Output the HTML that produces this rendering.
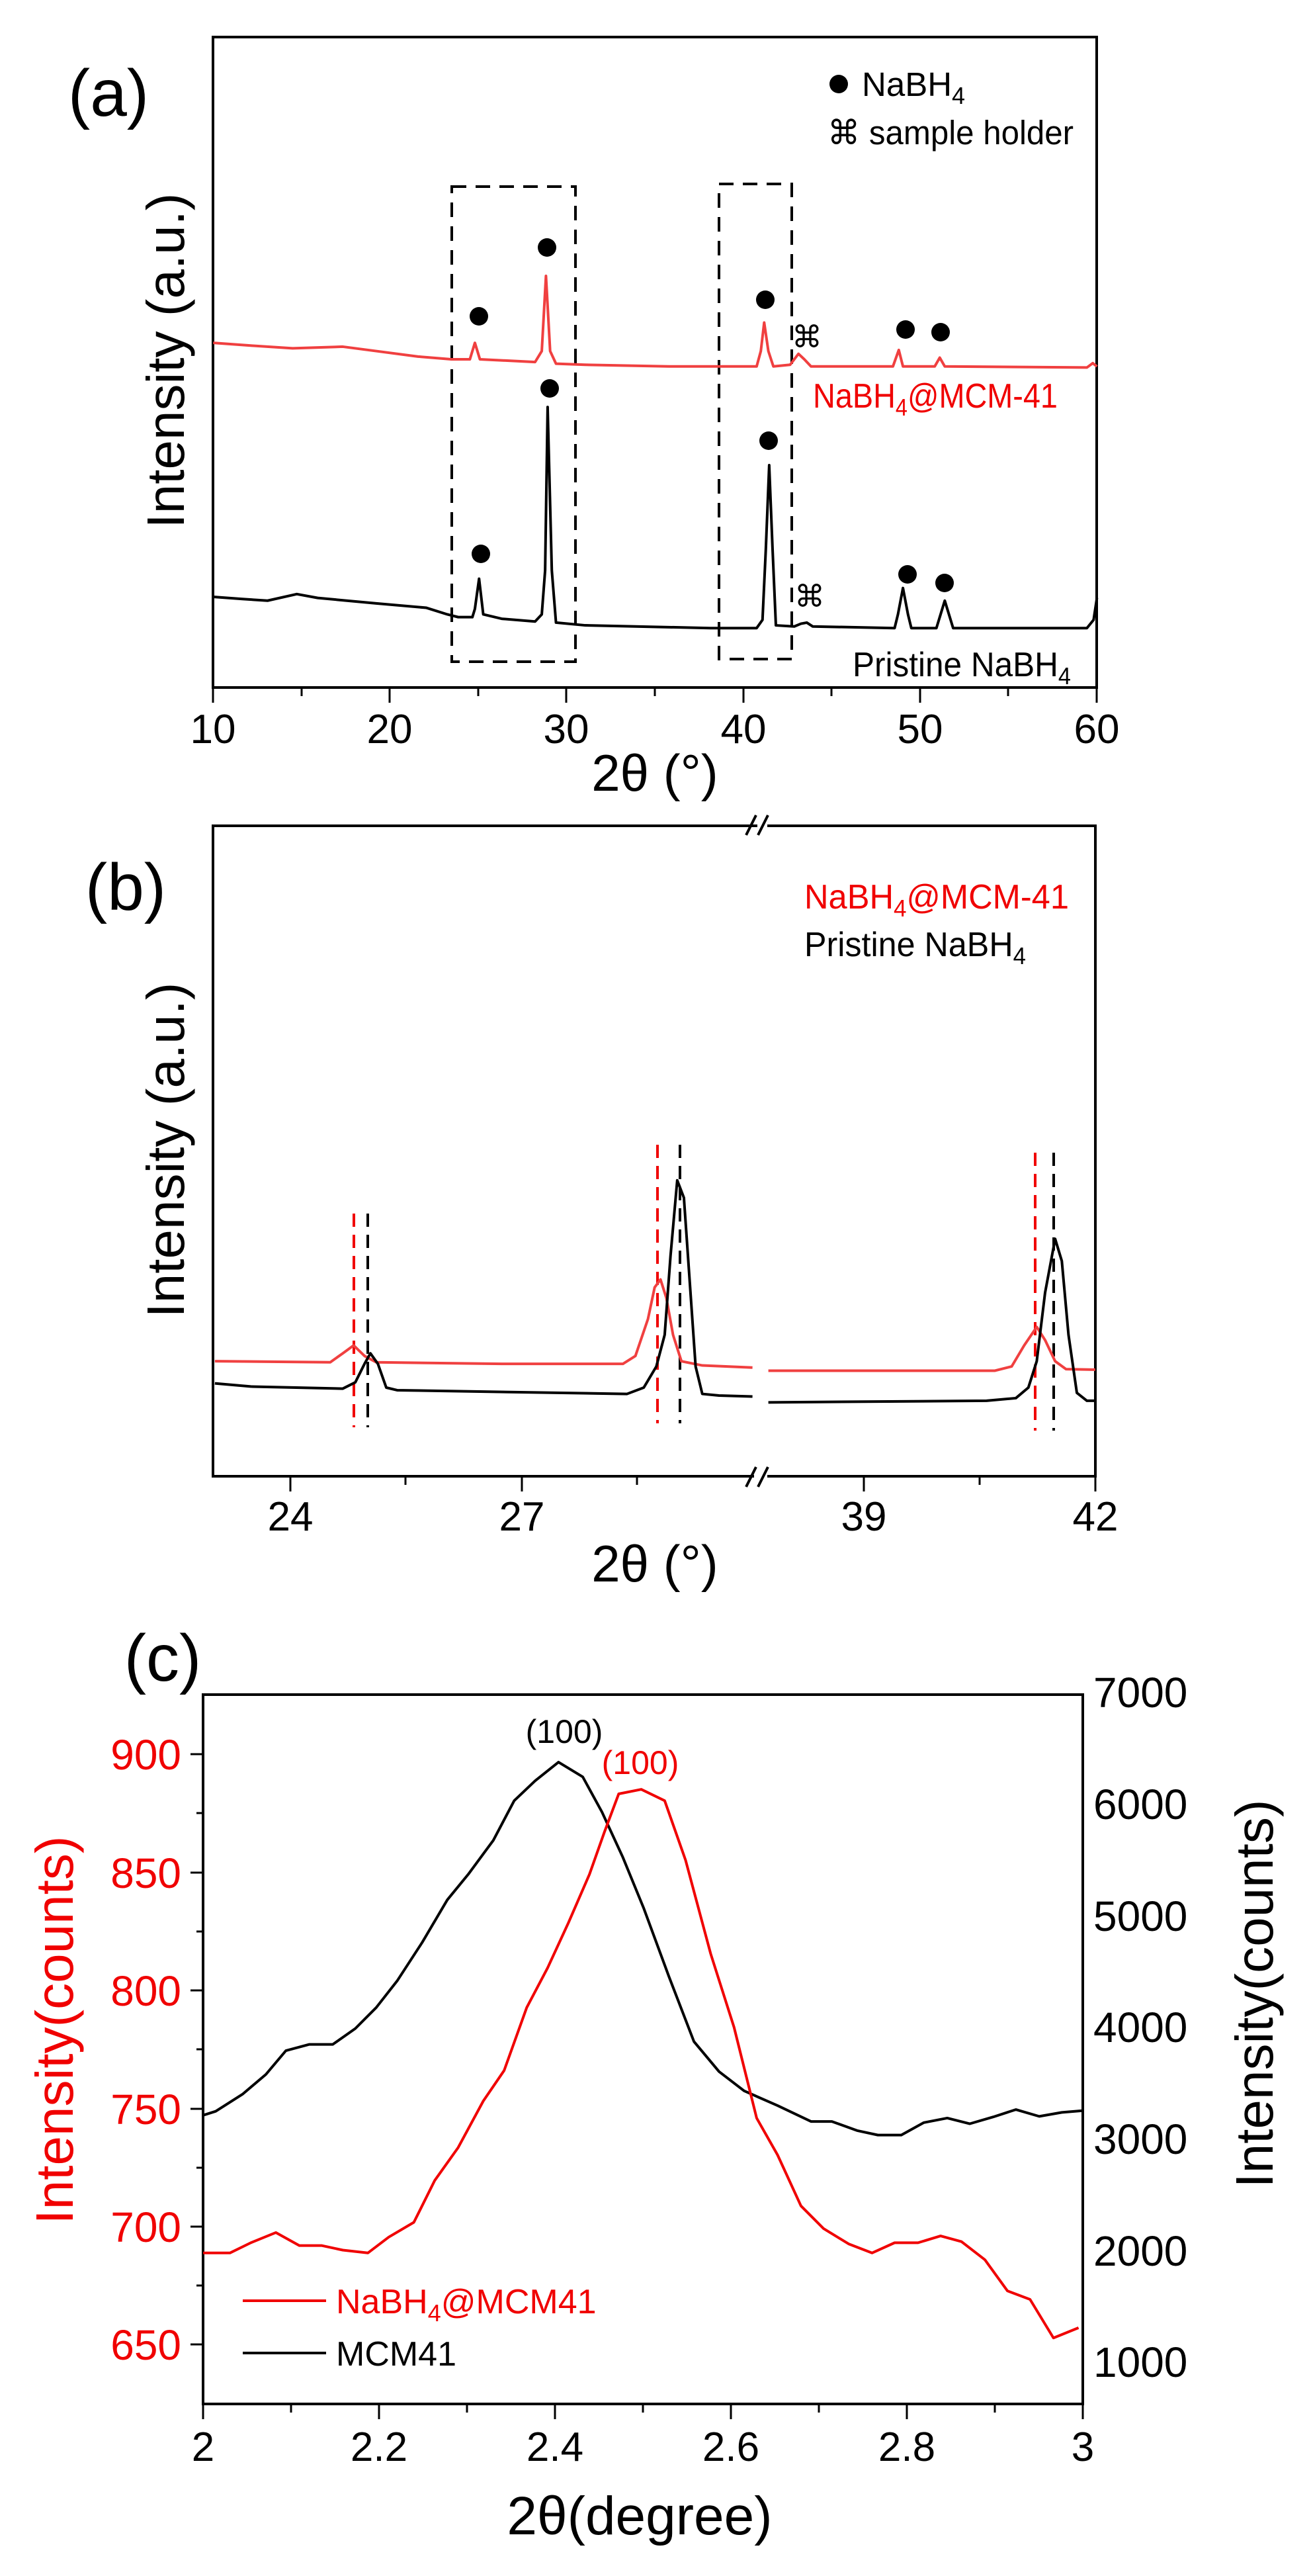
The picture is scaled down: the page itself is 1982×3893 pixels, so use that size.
<!DOCTYPE html>
<html><head><meta charset="utf-8"><style>html,body{margin:0;padding:0;background:#fff}svg{display:block}text{font-family:"Liberation Sans",Arial,sans-serif}</style></head>
<body>
<svg width="1982" height="3893" viewBox="0 0 1982 3893" xmlns="http://www.w3.org/2000/svg">
<rect width="1982" height="3893" fill="#fff"/>

<!-- ============ PANEL (a) ============ -->
<text x="164" y="175" font-size="100" text-anchor="middle">(a)</text>
<rect x="322" y="56" width="1336" height="983" fill="none" stroke="#000" stroke-width="4"/>
<g stroke="#000" stroke-width="3">
<line x1="322" y1="1039" x2="322" y2="1062"/><line x1="589" y1="1039" x2="589" y2="1062"/><line x1="856" y1="1039" x2="856" y2="1062"/><line x1="1124" y1="1039" x2="1124" y2="1062"/><line x1="1391" y1="1039" x2="1391" y2="1062"/><line x1="1658" y1="1039" x2="1658" y2="1062"/>
<line x1="456" y1="1039" x2="456" y2="1052"/><line x1="723" y1="1039" x2="723" y2="1052"/><line x1="990" y1="1039" x2="990" y2="1052"/><line x1="1257" y1="1039" x2="1257" y2="1052"/><line x1="1524" y1="1039" x2="1524" y2="1052"/>
</g>
<g font-size="62" text-anchor="middle">
<text x="322" y="1123">10</text><text x="589" y="1123">20</text><text x="856" y="1123">30</text><text x="1124" y="1123">40</text><text x="1391" y="1123">50</text><text x="1658" y="1123">60</text>
</g>
<text x="990" y="1195" font-size="78" text-anchor="middle">2θ (°)</text>
<text transform="translate(278,545) rotate(-90)" font-size="80" text-anchor="middle">Intensity (a.u.)</text>
<g fill="none" stroke="#000" stroke-width="4" stroke-dasharray="22,14">
<rect x="683" y="282" width="187" height="718"/>
<rect x="1087" y="278" width="110" height="718"/>
</g>
<g transform="matrix(1.264,0,0,0.829,0,0)" fill="none" stroke-width="4" stroke-linejoin="round">
<path vector-effect="non-scaling-stroke" stroke="#f04040" d="M255,625 L300,630 350,635 410,632 450,640 500,650 540,655 562,655 568,625 574,655 640,660 648,640 653,503 658,640 665,663 700,665 800,668 905,668 910,640 914,588 919,640 925,668 945,665 955,645 962,655 970,668 1068,668 1075,638 1080,668 1118,668 1124,652 1130,668 1300,670 1307,662 1312,668"/>
<path vector-effect="non-scaling-stroke" stroke="#000" d="M255,1088 L290,1092 320,1095 355,1083 380,1090 450,1100 510,1108 535,1120 548,1125 565,1125 568,1110 573,1055 578,1120 600,1128 640,1133 648,1120 652,1040 655,742 660,1040 665,1135 700,1140 850,1145 905,1145 912,1130 916,1000 920,848 924,1000 928,1140 950,1142 958,1137 965,1135 972,1142 1070,1145 1074,1120 1080,1072 1086,1120 1090,1145 1120,1145 1125,1120 1130,1095 1135,1120 1140,1145 1300,1145 1308,1130 1312,1090"/>
</g>
<g fill="#000">
<circle cx="724" cy="478" r="14"/><circle cx="827" cy="374" r="14"/><circle cx="1157" cy="453" r="14"/><circle cx="1369" cy="498" r="14"/><circle cx="1422" cy="502" r="14"/>
<circle cx="727" cy="837" r="14"/><circle cx="831" cy="587" r="14"/><circle cx="1162" cy="666" r="14"/><circle cx="1372" cy="868" r="14"/><circle cx="1428" cy="881" r="14"/>
<circle cx="1268" cy="127" r="14"/>
</g>
<text x="1220" y="525" font-size="46" text-anchor="middle">⌘</text>
<text x="1224" y="917" font-size="46" text-anchor="middle">⌘</text>
<text x="1303" y="145" font-size="51">NaBH<tspan font-size="36" dy="12">4</tspan></text>
<text x="1251" y="218" font-size="51" textLength="372" lengthAdjust="spacingAndGlyphs">⌘ sample holder</text>
<text x="1229" y="616" font-size="52" fill="#f00000" textLength="370" lengthAdjust="spacingAndGlyphs">NaBH<tspan font-size="36" dy="12">4</tspan><tspan dy="-12">@MCM-41</tspan></text>
<text x="1289" y="1022" font-size="52" textLength="330" lengthAdjust="spacingAndGlyphs">Pristine NaBH<tspan font-size="36" dy="12">4</tspan></text>

<!-- ============ PANEL (b) ============ -->
<text x="190" y="1375" font-size="100" text-anchor="middle">(b)</text>
<polyline points="1145,1248 322,1248 322,2231 1140,2231" fill="none" stroke="#000" stroke-width="4"/>
<polyline points="1160,1248 1656,1248 1656,2231 1160,2231" fill="none" stroke="#000" stroke-width="4"/>
<g stroke="#000" stroke-width="4">
<line x1="1128" y1="1262" x2="1143" y2="1232"/><line x1="1146" y1="1262" x2="1161" y2="1232"/>
<line x1="1128" y1="2247" x2="1143" y2="2217"/><line x1="1146" y1="2247" x2="1161" y2="2217"/>
</g>
<g stroke="#000" stroke-width="3">
<line x1="439" y1="2231" x2="439" y2="2254"/><line x1="789" y1="2231" x2="789" y2="2254"/><line x1="1306" y1="2231" x2="1306" y2="2254"/><line x1="1656" y1="2231" x2="1656" y2="2254"/>
<line x1="613" y1="2231" x2="613" y2="2244"/><line x1="963" y1="2231" x2="963" y2="2244"/><line x1="1481" y1="2231" x2="1481" y2="2244"/>
</g>
<g font-size="62" text-anchor="middle">
<text x="439" y="2313">24</text><text x="789" y="2313">27</text><text x="1306" y="2313">39</text><text x="1656" y="2313">42</text>
</g>
<text x="990" y="2390" font-size="78" text-anchor="middle">2θ (°)</text>
<text transform="translate(278,1738) rotate(-90)" font-size="80" text-anchor="middle">Intensity (a.u.)</text>
<text x="1216" y="1373" font-size="52" fill="#f00000" textLength="400" lengthAdjust="spacingAndGlyphs">NaBH<tspan font-size="36" dy="12">4</tspan><tspan dy="-12">@MCM-41</tspan></text>
<text x="1216" y="1445" font-size="52" textLength="335" lengthAdjust="spacingAndGlyphs">Pristine NaBH<tspan font-size="36" dy="12">4</tspan></text>
<g stroke-width="4" stroke-dasharray="20,12">
<line x1="535" y1="1834" x2="535" y2="2157" stroke="#f00000"/><line x1="556" y1="1834" x2="556" y2="2157" stroke="#000"/>
<line x1="994" y1="1730" x2="994" y2="2151" stroke="#f00000"/><line x1="1028" y1="1730" x2="1028" y2="2151" stroke="#000"/>
<line x1="1565" y1="1742" x2="1565" y2="2162" stroke="#f00000"/><line x1="1593" y1="1742" x2="1593" y2="2162" stroke="#000"/>
</g>
<g transform="matrix(1.264,0,0,0.797,0,1300)" fill="none" stroke-width="4" stroke-linejoin="round">
<path vector-effect="non-scaling-stroke" stroke="#f04040" d="M257,950 L395,952 410,935 423,920 436,940 450,952 600,955 745,955 760,940 775,870 783,810 790,795 797,830 805,900 815,950 840,958 900,962 M919,968 L1190,968 1210,960 1225,920 1240,885 1250,910 1262,950 1275,965 1310,966"/>
<path vector-effect="non-scaling-stroke" stroke="#000" d="M257,992 L300,998 410,1002 425,990 436,955 443,935 452,955 462,1000 475,1005 750,1012 770,1000 785,960 795,900 802,750 810,607 818,640 825,800 832,960 840,1012 860,1015 900,1017 M919,1028 L1180,1025 1215,1020 1230,1000 1240,950 1250,820 1262,718 1270,760 1278,900 1288,1010 1300,1025 1310,1025"/>
</g>

<!-- ============ PANEL (c) ============ -->
<text x="246" y="2540" font-size="100" text-anchor="middle">(c)</text>
<rect x="307" y="2561" width="1330" height="1072" fill="none" stroke="#000" stroke-width="4"/>
<g stroke="#000" stroke-width="3">
<line x1="307" y1="3633" x2="307" y2="3656"/><line x1="573" y1="3633" x2="573" y2="3656"/><line x1="839" y1="3633" x2="839" y2="3656"/><line x1="1105" y1="3633" x2="1105" y2="3656"/><line x1="1371" y1="3633" x2="1371" y2="3656"/><line x1="1637" y1="3633" x2="1637" y2="3656"/>
<line x1="440" y1="3633" x2="440" y2="3646"/><line x1="706" y1="3633" x2="706" y2="3646"/><line x1="972" y1="3633" x2="972" y2="3646"/><line x1="1238" y1="3633" x2="1238" y2="3646"/><line x1="1504" y1="3633" x2="1504" y2="3646"/>
<line x1="307" y1="2651" x2="288" y2="2651"/><line x1="307" y1="2830" x2="288" y2="2830"/><line x1="307" y1="3008" x2="288" y2="3008"/><line x1="307" y1="3187" x2="288" y2="3187"/><line x1="307" y1="3365" x2="288" y2="3365"/><line x1="307" y1="3543" x2="288" y2="3543"/>
<line x1="307" y1="2740" x2="297" y2="2740"/><line x1="307" y1="2919" x2="297" y2="2919"/><line x1="307" y1="3097" x2="297" y2="3097"/><line x1="307" y1="3276" x2="297" y2="3276"/><line x1="307" y1="3454" x2="297" y2="3454"/>
</g>
<g font-size="62" text-anchor="middle">
<text x="307" y="3719">2</text><text x="573" y="3719">2.2</text><text x="839" y="3719">2.4</text><text x="1105" y="3719">2.6</text><text x="1371" y="3719">2.8</text><text x="1637" y="3719">3</text>
</g>
<g font-size="64" text-anchor="end" fill="#f00000">
<text x="274" y="2674">900</text><text x="274" y="2853">850</text><text x="274" y="3031">800</text><text x="274" y="3210">750</text><text x="274" y="3388">700</text><text x="274" y="3566">650</text>
</g>
<g font-size="64" text-anchor="start">
<text x="1653" y="2580">7000</text><text x="1653" y="2749">6000</text><text x="1653" y="2918">5000</text><text x="1653" y="3086">4000</text><text x="1653" y="3255">3000</text><text x="1653" y="3424">2000</text><text x="1653" y="3592">1000</text>
</g>
<text x="967" y="3830" font-size="82" text-anchor="middle">2θ(degree)</text>
<text transform="translate(110,3068) rotate(-90)" font-size="80" text-anchor="middle" fill="#f00000">Intensity(counts)</text>
<text transform="translate(1924,3013) rotate(-90)" font-size="80" text-anchor="middle">Intensity(counts)</text>
<text x="853" y="2634" font-size="50" text-anchor="middle">(100)</text>
<text x="968" y="2681" font-size="50" text-anchor="middle" fill="#f00000">(100)</text>
<line x1="367" y1="3477" x2="493" y2="3477" stroke="#f00000" stroke-width="4"/>
<line x1="367" y1="3556" x2="493" y2="3556" stroke="#000" stroke-width="4"/>
<text x="508" y="3496" font-size="52" fill="#f00000">NaBH<tspan font-size="36" dy="12">4</tspan><tspan dy="-12">@MCM41</tspan></text>
<text x="508" y="3575" font-size="52">MCM41</text>
<g transform="matrix(1.264,0,0,0.8565,0,2550)" fill="none" stroke-width="4" stroke-linejoin="round">
<path vector-effect="non-scaling-stroke" stroke="#000" d="M243,755 L258,748 290,718 318,683 342,641 370,630 398,630 425,602 450,565 475,518 505,450 535,375 560,330 590,270 615,200 640,165 668,132 697,158 720,220 745,300 770,390 800,510 830,625 860,678 890,712 930,738 970,766 995,766 1025,782 1050,790 1078,790 1105,768 1133,760 1160,770 1188,758 1215,745 1243,757 1270,750 1295,747"/>
<path vector-effect="non-scaling-stroke" stroke="#f00000" d="M243,998 L275,998 300,980 330,962 358,985 385,985 410,993 440,998 465,970 495,944 520,870 548,812 578,730 603,676 630,565 655,495 680,415 705,330 723,255 740,188 767,180 795,200 820,305 850,470 878,600 905,760 930,825 958,915 985,955 1015,982 1043,998 1070,980 1098,980 1125,968 1150,978 1178,1010 1205,1065 1232,1080 1260,1148 1290,1130"/>
</g>
</svg>
</body></html>
